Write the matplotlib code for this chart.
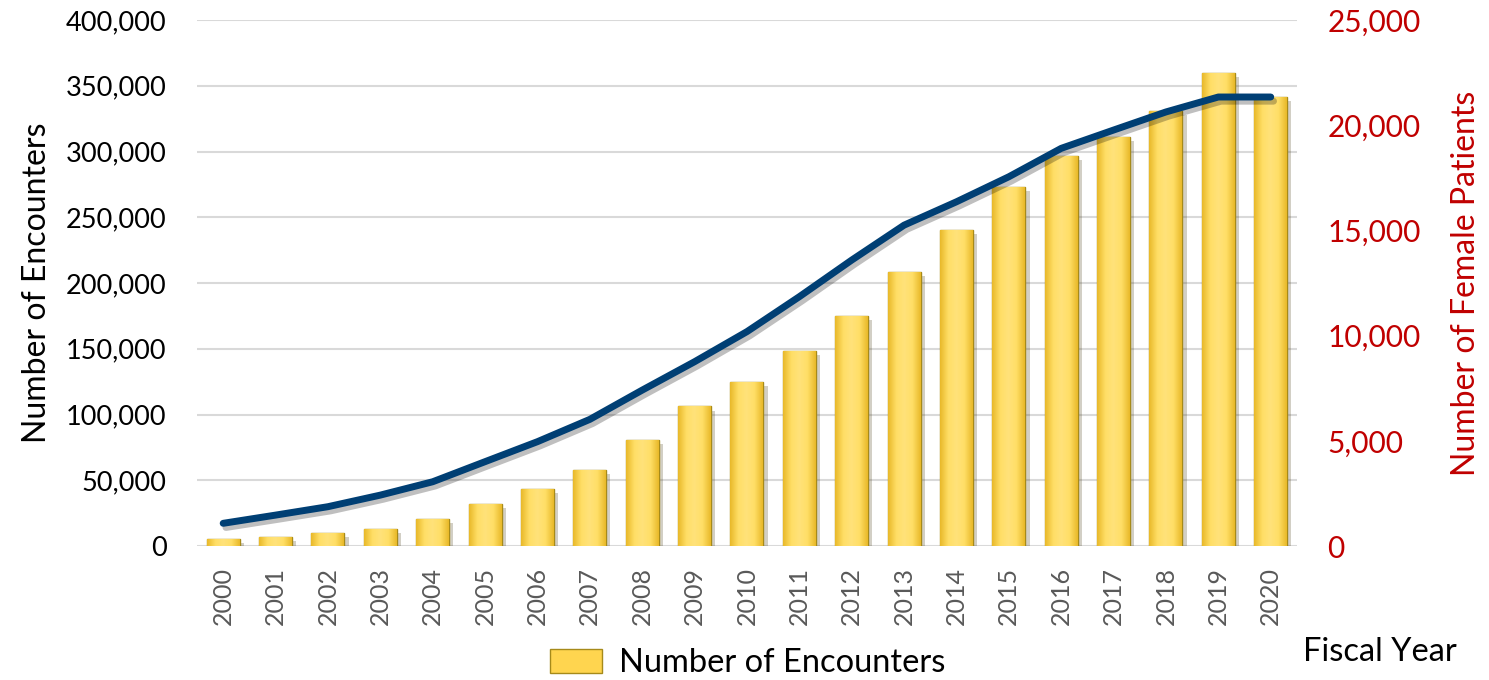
import matplotlib
matplotlib.use("Agg")
import matplotlib.pyplot as plt
import matplotlib.patheffects as pe
import numpy as np
from matplotlib.patches import Patch
from matplotlib.colors import LinearSegmentedColormap
from matplotlib.ticker import FuncFormatter

# data
years = [str(y) for y in range(2000, 2021)]
encounters = [5500, 7100, 10100, 12900, 20800, 32200, 43600, 57800, 80400, 106200,
              125000, 148500, 175100, 208600, 240300, 272800, 296600, 311300, 331000,
              359500, 341700]
female_patients = [1080, 1470, 1870, 2420, 3055, 4010, 4960, 6020, 7410, 8760,
                   10190, 11850, 13590, 15250, 16360, 17550, 18900, 19770, 20630,
                   21340, 21340]

plt.rcParams['font.family'] = ['Lato', 'DejaVu Sans']

fig = plt.figure(figsize=(14.89, 6.8), dpi=100)
ax = fig.add_axes([0.1323, 0.197, 0.7387, 0.7736])
ax2 = ax.twinx()

x = range(len(years))
bars = ax.bar(x, encounters, width=0.63, color='#FFD54F', edgecolor='#A68A1A',
              linewidth=1.0, zorder=3)
# soft bevel look: horizontal gradient clipped to each bar
bevel = LinearSegmentedColormap.from_list('bevel', ['#E9B92A', '#FFDE66', '#FFE27A', '#FFDE66', '#E9B92A'])
grad = np.linspace(0, 1, 64).reshape(1, -1)
for b in bars:
    b.set_path_effects([pe.SimplePatchShadow(offset=(3, -3), alpha=0.25), pe.Normal()])
    im = ax.imshow(grad, cmap=bevel, aspect='auto', zorder=3.5,
                   extent=[b.get_x(), b.get_x() + b.get_width(), 0, b.get_height()])
    im.set_clip_path(b)

ax2.plot(x, female_patients, color='#003F74', linewidth=5, solid_capstyle='round',
         zorder=4, path_effects=[pe.SimpleLineShadow(offset=(2, -3), alpha=0.25), pe.Normal()])

ax.set_ylim(0, 400000)
ax2.set_ylim(0, 25000)
ax.set_xlim(-0.5, len(years) - 0.5)
ax.set_yticks(range(0, 400001, 50000))
ax2.set_yticks(range(0, 25001, 5000))
fmt = FuncFormatter(lambda v, p: f"{int(v):,}")
ax.yaxis.set_major_formatter(fmt)
ax2.yaxis.set_major_formatter(fmt)

ax.grid(axis='y', color='#D9D9D9', linewidth=1.5, zorder=0)
ax.set_axisbelow(True)
for a in (ax, ax2):
    for s in a.spines.values():
        s.set_visible(False)
    a.tick_params(length=0)

ax.set_xticks(list(x))
ax.set_xticklabels(years, rotation=90, fontsize=18, color='#595959')
ax.tick_params(axis='x', pad=15)
ax.tick_params(axis='y', labelsize=19.5, pad=22, colors='black')
ax2.tick_params(axis='y', labelsize=21.5, pad=22, colors='#C00000')

ax.set_ylabel("Number of Encounters", fontsize=23, labelpad=10)
ax2.set_ylabel("Number of Female Patients", fontsize=23, color='#C00000', labelpad=22)

fig.text(0.875, 0.041, "Fiscal Year", fontsize=23.5, ha='left', va='center')
handle = Patch(facecolor='#FFD54F', edgecolor='#A68A1A')
fig.legend(handles=[handle], labels=["Number of Encounters"], loc='center',
           bbox_to_anchor=(0.502, 0.025), frameon=False, fontsize=23.5,
           handlelength=1.6, handleheight=0.75, handletextpad=0.5)

fig.savefig("out.png", dpi=100)
